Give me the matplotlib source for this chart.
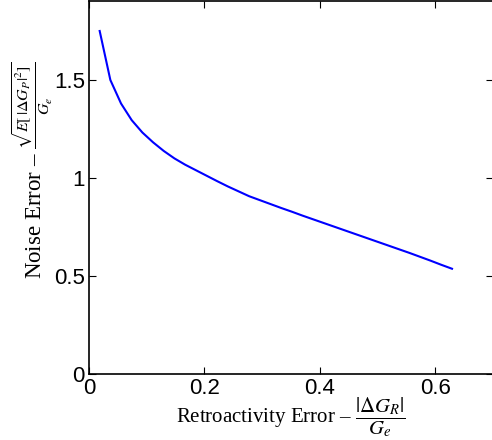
import numpy as np
import matplotlib
matplotlib.use("Agg")
import matplotlib.pyplot as plt
from matplotlib.ticker import FormatStrFormatter

# retroactivity error vs noise error
retro_err = [0.0185, 0.037, 0.0555, 0.074, 0.0925, 0.111, 0.1295, 0.148,
             0.1665, 0.185, 0.2035, 0.222, 0.2405, 0.259, 0.2775, 0.296,
             0.3145, 0.333, 0.3515, 0.370, 0.3885, 0.407, 0.4255, 0.444,
             0.4625, 0.481, 0.4995, 0.518, 0.5365, 0.555, 0.5735, 0.592,
             0.6105, 0.629]
noise_err = [1.750, 1.500, 1.380, 1.295, 1.232, 1.182, 1.138, 1.100,
             1.068, 1.040, 1.012, 0.984, 0.957, 0.932, 0.907, 0.887,
             0.867, 0.847, 0.828, 0.808, 0.789, 0.770, 0.751, 0.732,
             0.713, 0.694, 0.675, 0.656, 0.637, 0.618, 0.598, 0.578,
             0.557, 0.537]

xticks = [0, 0.2, 0.4, 0.6]
yticks = [0, 0.5, 1, 1.5]

plt.rcParams["mathtext.fontset"] = "stix"
plt.rcParams["font.family"] = ["Liberation Sans", "DejaVu Sans"]

fig = plt.figure(figsize=(4.92, 4.40), dpi=100)
ax = fig.add_axes([89 / 492, 1 - 374 / 440, 404 / 492, 373 / 440])

ax.plot(retro_err, noise_err, color="#0000ff", lw=1.5)

ax.set_xlim(0, 0.7)
ax.set_ylim(0, 1.903)
ax.set_xticks(xticks)
ax.set_yticks(yticks)
ax.xaxis.set_major_formatter(FormatStrFormatter("%g"))
ax.yaxis.set_major_formatter(FormatStrFormatter("%g"))
ax.tick_params(direction="in", top=True, right=True, length=5, width=0.8,
               labelsize=16, pad=3)
for s in ax.spines.values():
    s.set_linewidth(1.2)
ax.spines["right"].set_visible(False)

ax.set_xlabel(r"Retroactivity Error – $\dfrac{|\Delta G_R|}{G_e}$",
              family="Liberation Serif", fontsize=15, labelpad=-3)
ax.set_ylabel(r"Noise Error – $\frac{\sqrt{E[\,|\Delta G_P|^2]}}{G_e}$",
              family="Liberation Serif", fontsize=16.5)
ax.yaxis.set_label_coords(-0.085, 0.545)

plt.savefig("out.png", dpi=100)
plt.close()
